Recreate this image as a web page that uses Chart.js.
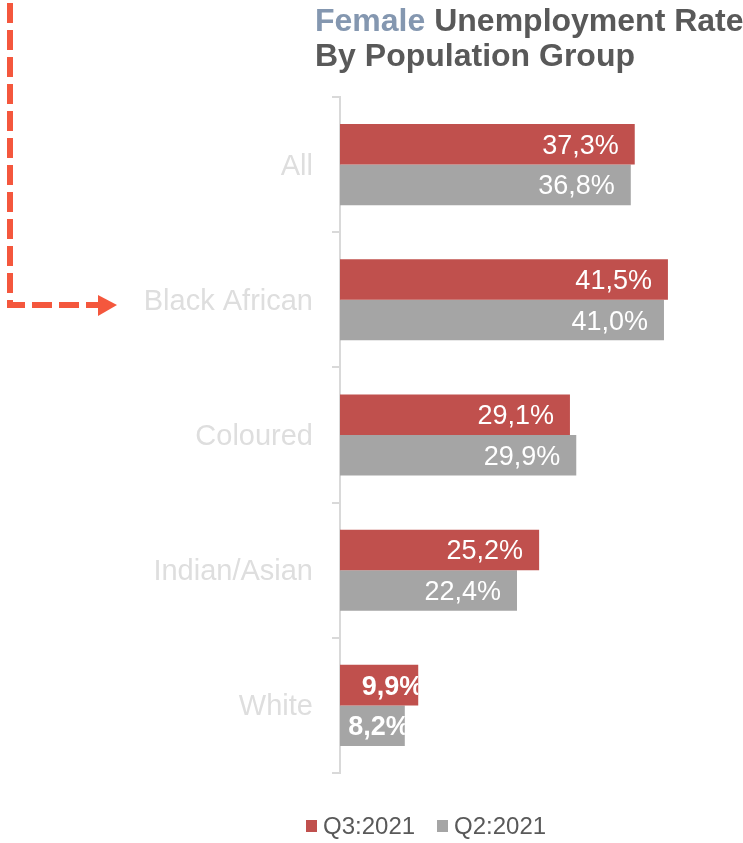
<!DOCTYPE html>
<html>
<head>
<meta charset="utf-8">
<title>Female Unemployment Rate By Population Group</title>
<script src="https://cdn.jsdelivr.net/npm/chart.js@4/dist/chart.umd.min.js"></script>
<style>
  html, body { margin: 0; padding: 0; background: #fff; }
  #chart { display: block; }
</style>
</head>
<body>
<canvas id="chart" width="743" height="843"></canvas>
<script>
const CATEGORIES = ['All', 'Black African', 'Coloured', 'Indian/Asian', 'White'];
const Q3_2021 = [37.3, 41.5, 29.1, 25.2, 9.9];
const Q2_2021 = [36.8, 41.0, 29.9, 22.4, 8.2];
const SERIES_LABELS = ['Q3:2021', 'Q2:2021'];

const RED = '#C0504D';
const GREY = '#A5A5A5';
const TEXT_DARK = '#595959';
const FONT = 'Arial, "Liberation Sans", sans-serif';

function formatRate(value) {
  return `${value.toFixed(1).replace('.', ',')}%`;
}

// title, dashed pointer arrow, value labels and legend are painted by hand
const decorations = {
  id: 'decorations',
  afterDraw(chart) {
    const { ctx } = chart;
    ctx.save();

    // title
    ctx.font = `bold 32px ${FONT}`;
    ctx.textAlign = 'left';
    ctx.textBaseline = 'alphabetic';
    ctx.fillStyle = '#8497B0';
    ctx.fillText('Female', 315, 31);
    const w = ctx.measureText('Female ').width;
    ctx.fillStyle = TEXT_DARK;
    ctx.fillText('Unemployment Rate', 315 + w, 31);
    ctx.fillText('By Population Group', 315, 66);

    // dashed arrow pointing at "Black African"
    ctx.strokeStyle = '#F4573D';
    ctx.fillStyle = '#F4573D';
    ctx.lineWidth = 6;
    ctx.setLineDash([20, 7]);
    ctx.beginPath();
    ctx.moveTo(10, 3);
    ctx.lineTo(10, 305);
    ctx.lineTo(99, 305);
    ctx.stroke();
    ctx.setLineDash([]);
    ctx.beginPath();
    ctx.moveTo(98, 295);
    ctx.lineTo(117, 305);
    ctx.lineTo(98, 316);
    ctx.closePath();
    ctx.fill();

    // legend
    const legendItems = [
      { label: SERIES_LABELS[0], color: RED, x: 306 },
      { label: SERIES_LABELS[1], color: GREY, x: 437 },
    ];
    ctx.font = `24px ${FONT}`;
    legendItems.forEach((item) => {
      ctx.fillStyle = item.color;
      ctx.fillRect(item.x, 820, 11, 12);
      ctx.fillStyle = TEXT_DARK;
      ctx.fillText(item.label, item.x + 17, 834);
    });

    ctx.restore();
  },
  afterDatasetsDraw(chart) {
    const { ctx } = chart;
    chart.data.datasets.forEach((dataset, di) => {
      const meta = chart.getDatasetMeta(di);
      meta.data.forEach((bar, i) => {
        const value = dataset.data[i];
        const top = bar.y - bar.height / 2;
        ctx.save();
        ctx.fillStyle = '#fff';
        ctx.textAlign = 'right';
        ctx.textBaseline = 'middle';
        if (value < 15) {
          // short bars: bold label that runs past the end and gets cut off
          ctx.beginPath();
          ctx.rect(bar.base, top, bar.x - bar.base, bar.height);
          ctx.clip();
          ctx.font = `bold 27px ${FONT}`;
          ctx.fillText(formatRate(value), bar.x + 5, bar.y + 2);
        } else {
          ctx.font = `27px ${FONT}`;
          ctx.fillText(formatRate(value), bar.x - 16, bar.y + 2);
        }
        ctx.restore();
      });
    });
  },
};

new Chart(document.getElementById('chart'), {
  type: 'bar',
  data: {
    labels: CATEGORIES,
    datasets: [
      { label: SERIES_LABELS[0], data: Q3_2021, backgroundColor: RED },
      { label: SERIES_LABELS[1], data: Q2_2021, backgroundColor: GREY },
    ],
  },
  options: {
    indexAxis: 'y',
    responsive: false,
    animation: false,
    devicePixelRatio: 1,
    categoryPercentage: 0.6,
    barPercentage: 1,
    layout: { padding: { top: 97, bottom: 70, left: 0, right: 0 } },
    scales: {
      x: { display: false, min: 0, max: 51 },
      y: {
        grid: {
          offset: true,
          drawOnChartArea: false,
          tickLength: 8,
          color: '#D9D9D9',
          lineWidth: 2,
        },
        border: { color: '#D9D9D9', width: 2 },
        ticks: {
          color: '#DEDEDE',
          padding: 19,
          labelOffset: 2,
          font: { size: 29, family: FONT },
        },
        afterFit(scale) {
          scale.width = 340;
        },
      },
    },
    plugins: {
      legend: { display: false },
      title: { display: false },
      tooltip: { enabled: false },
    },
  },
  plugins: [decorations],
});
</script>
</body>
</html>
